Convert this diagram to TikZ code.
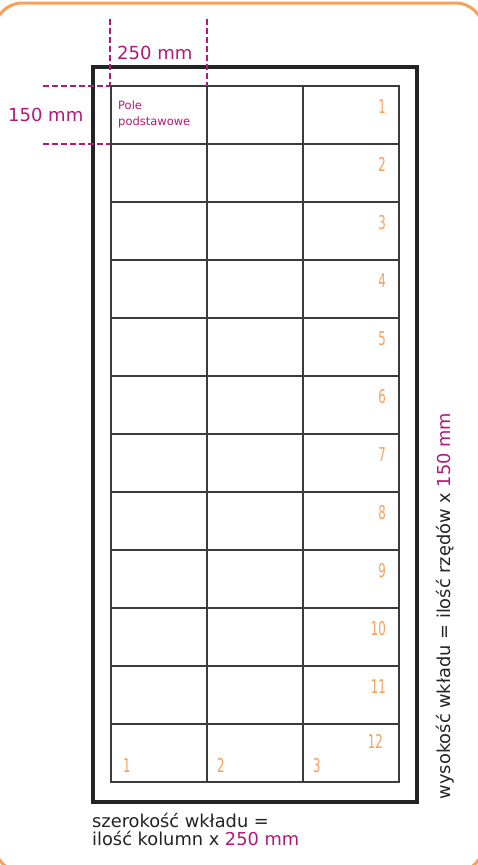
\documentclass[tikz,border=0pt]{standalone}
\usepackage{fontspec}
\setmainfont{DejaVu Sans}
\newfontfamily\numfont[FakeStretch=0.62]{DejaVu Sans}
\definecolor{mag}{RGB}{178,24,120}
\definecolor{org}{RGB}{246,160,92}
\definecolor{grd}{RGB}{60,60,60}
\definecolor{ink}{RGB}{35,35,35}
\tikzset{
  cell/.style={draw=grd, line width=1.6pt, minimum width=96pt, minimum height=58pt, inner sep=0pt, outer sep=0pt},
  num/.style={text=org, inner sep=0pt, font=\numfont\fontsize{19}{19}\selectfont},
  dim/.style={mag, line width=1.4pt, dash pattern=on 5.5pt off 3.5pt},
  magtext/.style={text=mag, inner sep=0pt},
  bodytext/.style={text=ink, inner sep=0pt, font=\fontsize{17.8}{18}\selectfont},
}
\begin{document}
\begin{tikzpicture}[x=1pt,y=-1pt]
\useasboundingbox (0,0) rectangle (478,865);
\fill[white] (0,0) rectangle (478,865);
% orange border
\begin{scope}
\clip (0,0) rectangle (478,865);
\draw[org, line width=3pt, rounded corners=28pt] (-5.5,3) rectangle (483.5,872);
\end{scope}
% outer frame
\node[draw=ink, line width=3.3pt, minimum width=324pt, minimum height=735pt, inner sep=0pt] (frame) at (255,434.5) {};
% grid
\foreach \r in {0,...,11}{
  \foreach \c in {0,1,2}{
    \node[cell] (c\r\c) at ({159+96*\c},{115+58*\r}) {};
  }
}
% dimension lines
\draw[dim] (110,19) -- (110,86);
\draw[dim] (207,19) -- (207,86);
\draw[dim] (43,86) -- (110,86);
\draw[dim] (43,144) -- (110,144);
\node[magtext, anchor=base west, font=\fontsize{18}{18}\selectfont] (w250) at (117,59) {250 mm};
\node[magtext, anchor=base west, font=\fontsize{18}{18}\selectfont] (h150) at (8,121) {150 mm};
\node[magtext, anchor=base west, font=\fontsize{11.5}{16}\selectfont] (pole) at (118,109) {Pole};
\node[magtext, anchor=base west, font=\fontsize{11.5}{16}\selectfont] (pods) at (118,125) {podstawowe};
% row numbers
\foreach \r in {1,...,11}{
  \node[num, anchor=base east] (n\r) at (386,{86+58*(\r-1)+27}) {\r};
}
\node[num, anchor=base east] (n12) at (383,748) {12};
% column numbers
\node[num, anchor=base west] (k1) at (123,772) {1};
\node[num, anchor=base west] (k2) at (217,772) {2};
\node[num, anchor=base west] (k3) at (313,772) {3};
% bottom text
\node[bodytext, anchor=base west] (sz1) at (92,827) {szerokość wkładu =};
\node[bodytext, anchor=base west] (sz2) at (92,845) {ilość kolumn x \textcolor{mag}{250 mm}};
% rotated text
\node[bodytext, anchor=base, rotate=90] (wys) at (450,606) {wysokość wkładu = ilość rzędów x \textcolor{mag}{150 mm}};
\end{tikzpicture}
\end{document}
